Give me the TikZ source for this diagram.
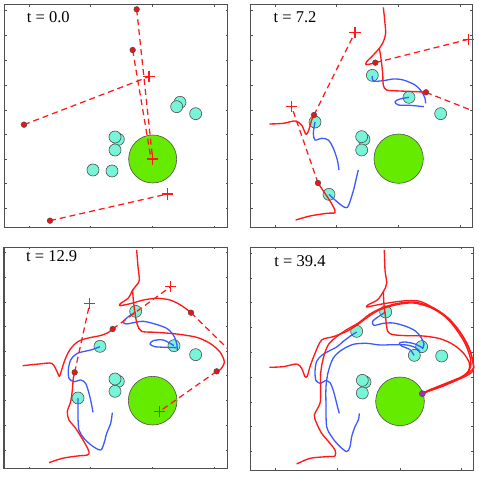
\documentclass[tikz,border=0pt]{standalone}
\usepackage{fontspec}
\setmainfont{Liberation Serif}
\definecolor{trred}{RGB}{255,25,25}
\definecolor{trblue}{RGB}{60,90,255}
\definecolor{obgreen}{RGB}{100,235,0}
\definecolor{agcyan}{RGB}{120,245,215}
\definecolor{magdot}{RGB}{170,40,200}
\definecolor{frgray}{RGB}{80,80,80}
\definecolor{dotred}{RGB}{235,20,20}
\tikzset{
  frame/.style={draw=frgray, line width=1pt},
  tickmark/.style={draw=frgray, line width=0.6pt},
  obst/.style={fill=obgreen, draw=frgray, line width=0.6pt},
  agent/.style={fill=agcyan, draw=frgray, line width=0.6pt},
  rtraj/.style={draw=trred, line width=1.35pt, line join=round},
  btraj/.style={draw=trblue, line width=1.3pt, line join=round},
  dline/.style={draw=trred, line width=1.25pt, dash pattern=on 6pt off 4pt},
  pdot/.style={fill=dotred, draw=black!70, line width=0.5pt},
  target/.style={fill=trred, draw=none},
  tlabel/.style={font=\fontsize{16.5}{18}\selectfont, inner sep=0pt},
}
\newcommand\panelframe[6]{%
  \draw[frame] (#1,#2) rectangle (#3,#4);
  \foreach \xx in {#5}{\draw[tickmark] (\xx,#4) -- ++(0,-6) (\xx,#2) -- ++(0,6);}
  \foreach \yy in {#6}{\draw[tickmark] (#1,\yy) -- ++(6,0) (#3,\yy) -- ++(-6,0);}
}
\newcommand\agents[1]{\foreach \ax/\ay in {#1}{\draw[agent] (\ax,\ay) circle (18);}}
\newcommand\pdots[1]{\foreach \ax/\ay in {#1}{\draw[pdot] (\ax,\ay) circle (8.5);}}
\newcommand\tgt[2]{\fill[target] (#1-17,#2-2) rectangle (#1+17,#2+2);
  \fill[target] (#1-2,#2-17) rectangle (#1+2,#2+17);}
\begin{document}
\begin{tikzpicture}[x=1pt,y=-1pt]
\useasboundingbox (0,0) rectangle (479,477);
\fill[white] (0,0) rectangle (479,477);
% ---------------- Panel 1 ----------------
\begin{scope}[shift={(0,0)}, scale=1/3]
  \panelframe{14}{14}{683}{683}{88,272,457,642}{30,105,180,255,330,403,478,551,625}
  \draw[obst] (458,477) circle (72);
  \agents{540/307,530/320,587/341,355/418,345/411,345/450,279/510,336/513}
  \draw[dline] (410,28) -- (458,477);
  \draw[dline] (398,150) -- (452,470);
  \draw[dline] (72,374) -- (447,230);
  \draw[dline] (150,662) -- (502,582);
  \tgt{447}{230}\tgt{458}{477}\tgt{502}{582}
  \pdots{410/28,398/150,72/374,150/662}
  \node[tlabel] (t1) at (145,52) {t = 0.0};
\end{scope}
% ---------------- Panel 2 ----------------
\begin{scope}[shift={(240,0)}, scale=1/3]
  \panelframe{32}{14}{697}{681}{105,290,475,660}{30,105,180,255,330,403,478,551,625}
  \draw[obst] (476,476) circle (74);
  \agents{397/226,507/292,602/341,372/418,365/410,365/450,225/366,267/583}
  \draw[btraj] plot[smooth] coordinates {(397,228) (400,243) (430,242) (460,237) (490,240) (525,255) (545,275) (555,295) (557,310)};
  \draw[btraj] plot[smooth] coordinates {(507,292) (480,297) (465,305) (475,315) (510,316) (552,320)};
  \draw[btraj] plot[smooth] coordinates {(225,366) (220,400) (225,420) (245,415) (265,420) (280,445) (292,480) (297,510)};
  \draw[btraj] plot[smooth] coordinates {(267,583) (285,600) (310,620) (322,622) (330,605) (342,565) (350,530) (355,510)};
  \draw[rtraj] plot[smooth] coordinates {(430,22) (434,60) (437,100) (430,125) (418,145) (395,170) (380,185) (378,194) (395,191) (406,188)};
  \draw[rtraj] plot[smooth] coordinates {(418,145) (423,175) (428,220) (430,255) (440,270) (480,273) (530,275) (558,277)};
  \draw[rtraj] plot[smooth] coordinates {(88,372) (130,370) (165,363) (185,375) (198,403) (208,385) (215,360) (222,345)};
  \draw[rtraj] plot[smooth] coordinates {(167,660) (210,648) (260,640) (285,638) (280,620) (265,595) (248,570) (234,549)};
  \draw[dline] (406,188) -- (685,118);
  \draw[dline] (558,277) -- (697,332);
  \draw[dline] (222,345) -- (345,97);
  \draw[dline] (234,549) -- (155,320);
  \tgt{345}{97}\tgt{155}{320}\tgt{685}{118}
  \pdots{406/188,558/277,222/345,234/549}
  \node[tlabel] (t2) at (165,52) {t = 7.2};
\end{scope}
% ---------------- Panel 3 ----------------
\begin{scope}[shift={(0,238)}, scale=1/3]
  \panelframe{12}{28}{683}{692}{88,272,457,642}{42,117,192,265,340,413,488,562,636}
  \draw[obst] (458,488) circle (73);
  \agents{407/220,522/323,587/350,355/430,345/423,345/460,300/325,234/480}
  \draw[btraj] plot[smooth] coordinates {(407,222) (385,236) (370,251) (378,258) (400,254) (430,250) (465,258) (500,271) (520,291) (530,316) (532,336)};
  \draw[btraj] plot[smooth] coordinates {(522,323) (490,306) (460,308) (450,318) (465,326) (500,328) (530,329)};
  \draw[btraj] plot[smooth] coordinates {(300,326) (272,336) (232,346) (212,366) (205,396) (207,421) (222,431) (242,426) (257,436) (267,466) (274,496) (279,523)};
  \draw[btraj] plot[smooth] coordinates {(234,480) (234,536) (237,576) (252,601) (277,624) (302,636) (312,616) (320,586) (332,556) (337,524)};
  \draw[rtraj] plot[smooth] coordinates {(410,36) (414,86) (418,126) (410,141) (398,156) (385,180) (362,196) (360,203) (395,196) (430,186) (470,181) (510,186) (545,203) (573,224)};
  \draw[rtraj] plot[smooth] coordinates {(398,156) (400,186) (405,226) (412,260) (425,280) (470,283) (530,288) (590,298) (630,316) (660,342) (673,372) (662,394) (650,400)};
  \draw[rtraj] plot[smooth] coordinates {(68,383) (117,378) (155,376) (170,398) (178,415) (185,395) (197,360) (212,332) (235,310) (265,300) (300,293) (322,285) (338,273)};
  \draw[rtraj] plot[smooth] coordinates {(147,674) (187,661) (232,654) (262,651) (267,641) (252,611) (227,571) (207,546) (202,521) (212,491) (217,456) (220,420) (224,403)};
  \draw[dline] (338,273) -- (512,146);
  \draw[dline] (573,224) -- (683,332);
  \draw[dline] (650,400) -- (479,520);
  \draw[dline] (224,403) -- (269,197);
  \tgt{269}{197}\tgt{512}{146}\tgt{479}{520}
  \pdots{338/273,573/224,650/400,224/403}
  \node[tlabel] (t3) at (155,55) {t = 12.9};
\end{scope}
% ---------------- Panel 4 ----------------
\begin{scope}[shift={(240,238)}, scale=1/3]
  \panelframe{30}{28}{700}{697}{105,292,480,665}{45,120,193,268,342,417,492,566,640}
  \draw[obst] (480,490) circle (73);
  \agents{437/222,350/280,545/326,523/352,605/354,375/432,367/427,367/465}
  \draw[btraj] plot[smooth] coordinates {(350,282) (330,295) (310,310) (290,327) (265,340) (245,352) (230,370) (225,400) (228,428) (242,436) (256,428) (270,434) (280,458) (288,488) (293,508) (298,526)};
  \draw[btraj] plot[smooth] coordinates {(540,340) (525,328) (500,321) (460,320) (420,321) (380,316) (340,319) (305,336) (280,360) (265,400) (258,446) (258,506) (260,566) (275,596) (295,621) (320,641) (330,626) (335,596) (345,566) (355,546) (358,526)};
  \draw[btraj] plot[smooth] coordinates {(437,222) (415,236) (398,250) (402,262) (430,256) (460,255) (495,264) (525,278) (543,298) (552,318) (547,333)};
  \draw[btraj] plot[smooth] coordinates {(522,352) (510,335) (485,324) (478,315) (495,312) (525,318) (548,330)};
  \draw[rtraj] plot[smooth] coordinates {(433,36) (435,96) (440,136) (430,161) (412,186) (385,200) (380,207) (410,201) (450,194) (500,188) (540,190) (580,210) (620,240) (650,276) (675,316) (690,356) (692,386) (680,406) (650,426) (605,446) (560,461) (548,466)};
  \draw[rtraj] plot[smooth] coordinates {(430,161) (432,200) (437,240) (443,280) (460,290) (500,293) (550,294) (600,302) (640,320) (670,345) (688,375) (685,400) (660,420) (615,440) (565,460) (548,466)};
  \draw[rtraj] plot[smooth] coordinates {(88,388) (130,386) (170,378) (185,391) (195,416) (202,414) (210,386) (225,346) (245,306) (280,296) (320,280) (350,262) (385,236) (420,215) (470,200) (520,195) (570,208) (615,235) (655,275) (685,325) (700,375) (698,400) (670,418) (620,438) (570,456) (548,466)};
  \draw[rtraj] plot[smooth] coordinates {(170,678) (210,661) (260,656) (285,654) (285,636) (270,616) (245,586) (230,556) (223,531) (240,496) (242,456) (242,406) (250,360) (265,320) (290,296) (320,275) (355,255) (390,228) (430,208) (480,195) (530,193) (585,212) (630,245) (665,290) (690,340) (700,380) (698,394) (670,414) (620,435) (570,455) (548,466)};
  \draw[fill=magdot, draw=black!70, line width=0.5pt] (547,467) circle (9);
  \node[tlabel] (t4) at (180,68) {t = 39.4};
\end{scope}
\end{tikzpicture}
\end{document}
